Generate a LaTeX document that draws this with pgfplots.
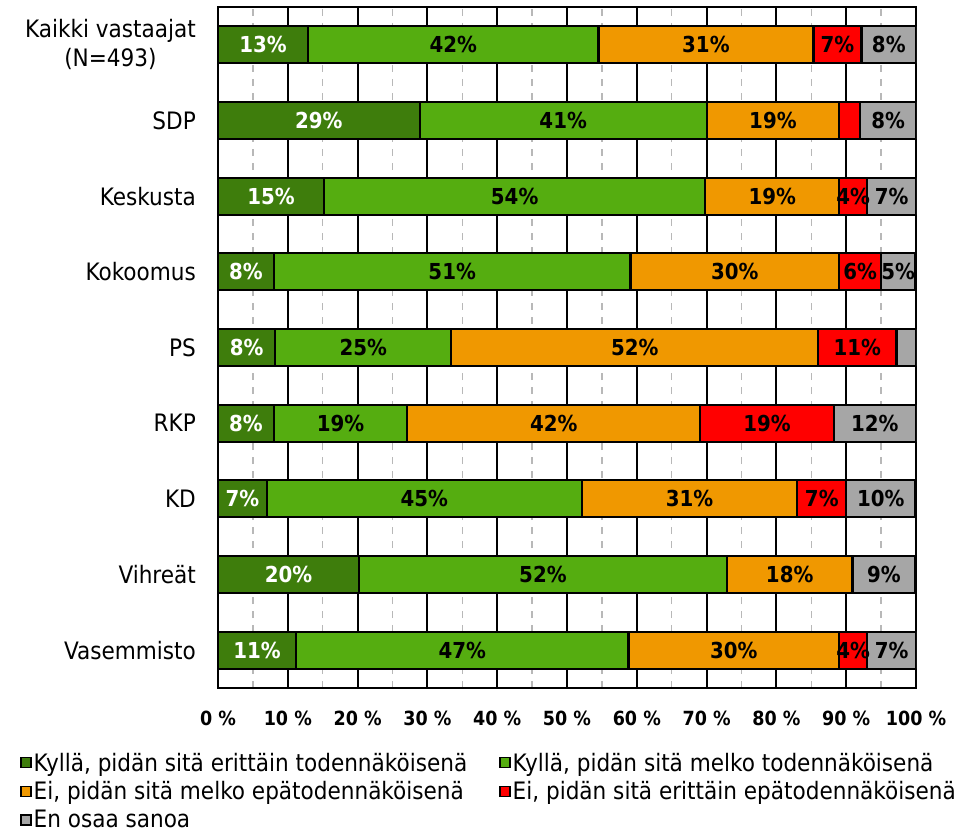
\documentclass[border=0pt]{standalone}
\usepackage{fontspec}
\setmainfont{DejaVu Sans Condensed}
\usepackage{pgfplots}
\pgfplotsset{compat=1.18}
\definecolor{dkg}{HTML}{3E7D0C}
\definecolor{ltg}{HTML}{55AD10}
\definecolor{org}{HTML}{F09800}
\definecolor{rd}{HTML}{FF0000}
\definecolor{gr}{HTML}{A6A6A6}
\pgfplotsset{sqlegend/.style={legend image code/.code={\draw[##1,draw=black,line width=1.5pt] (0pt,-5pt) rectangle (10pt,5pt);}}}
\begin{document}
\begin{tikzpicture}
\useasboundingbox (0,0) rectangle (965pt,833pt);
\begin{axis}[
  at={(218pt,145pt)}, anchor=south west,
  scale only axis, width=698pt, height=681pt,
  xbar stacked, bar width=0.49,
  every axis plot/.append style={draw=black, line width=2.2pt},
  xmin=0, xmax=100, ymin=-0.5, ymax=8.5,
  ytick={0,...,8},
  yticklabels={Vasemmisto, Vihreät, KD, RKP, PS, Kokoomus, Keskusta, SDP, {Kaikki vastaajat\\(N=493)}},
  yticklabel style={font=\fontsize{24}{29}\selectfont, align=center, inner sep=0pt, xshift=-22pt},
  xtick={0,10,...,100},
  xticklabels={0 \%,10 \%,20 \%,30 \%,40 \%,50 \%,60 \%,70 \%,80 \%,90 \%,100 \%},
  minor xtick={5,15,...,95},
  xticklabel style={font=\bfseries\fontsize{19.5}{22}\selectfont, inner sep=0pt, yshift=-23pt},
  major tick length=0pt, minor tick length=0pt,
  xmajorgrids, xminorgrids,
  major grid style={black, line width=2pt},
  minor grid style={black!28, line width=1.5pt, dash pattern=on 7pt off 7pt},
  axis line style={black, line width=2.4pt},
  point meta=explicit symbolic,
  nodes near coords,
  nodes near coords style={font=\bfseries\fontsize{22}{22}\selectfont, text=black},
  legend columns=2,
  legend cell align=left,
  legend style={at={(axis description cs:-0.2837,-0.092)}, anchor=north west, draw=none, fill=none, inner sep=0pt, row sep=5pt, font=\fontsize{24}{28}\selectfont, /tikz/every even column/.append style={column sep=30pt}},
]
\addplot[fill=dkg, draw=black, sqlegend, nodes near coords style={text=white}] coordinates {
 (12.9,8) [13\%] (28.9,7) [29\%] (15.2,6) [15\%] (8.0,5) [8\%] (8.2,4) [8\%]
 (8.0,3) [8\%] (7.0,2) [7\%] (20.2,1) [20\%] (11.2,0) [11\%]};
\addlegendentry{Kyllä, pidän sitä erittäin todennäköisenä}
\addplot[fill=ltg, draw=black, sqlegend] coordinates {
 (41.6,8) [42\%] (41.1,7) [41\%] (54.6,6) [54\%] (51.1,5) [51\%] (25.2,4) [25\%]
 (19.1,3) [19\%] (45.1,2) [45\%] (52.7,1) [52\%] (47.6,0) [47\%]};
\addlegendentry{Kyllä, pidän sitä melko todennäköisenä}
\addplot[fill=org, draw=black, sqlegend] coordinates {
 (30.8,8) [31\%] (19.0,7) [19\%] (19.2,6) [19\%] (29.9,5) [30\%] (52.6,4) [52\%]
 (42.0,3) [42\%] (30.9,2) [31\%] (18.0,1) [18\%] (30.2,0) [30\%]};
\addlegendentry{Ei, pidän sitä melko epätodennäköisenä}
\addplot[fill=rd, draw=black, sqlegend] coordinates {
 (6.9,8) [7\%] (3.0,7) [\,] (4.0,6) [4\%] (6.0,5) [6\%] (11.2,4) [11\%]
 (19.1,3) [19\%] (7.0,2) [7\%] (0,1) [\,] (4.0,0) [4\%]};
\addlegendentry{Ei, pidän sitä erittäin epätodennäköisenä}
\addplot[fill=gr, draw=black, sqlegend] coordinates {
 (7.8,8) [8\%] (8.0,7) [8\%] (7.0,6) [7\%] (4.9,5) [5\%] (2.8,4) [\,]
 (11.8,3) [12\%] (9.9,2) [10\%] (9.0,1) [9\%] (7.0,0) [7\%]};
\addlegendentry{En osaa sanoa}
\end{axis}
\end{tikzpicture}
\end{document}
